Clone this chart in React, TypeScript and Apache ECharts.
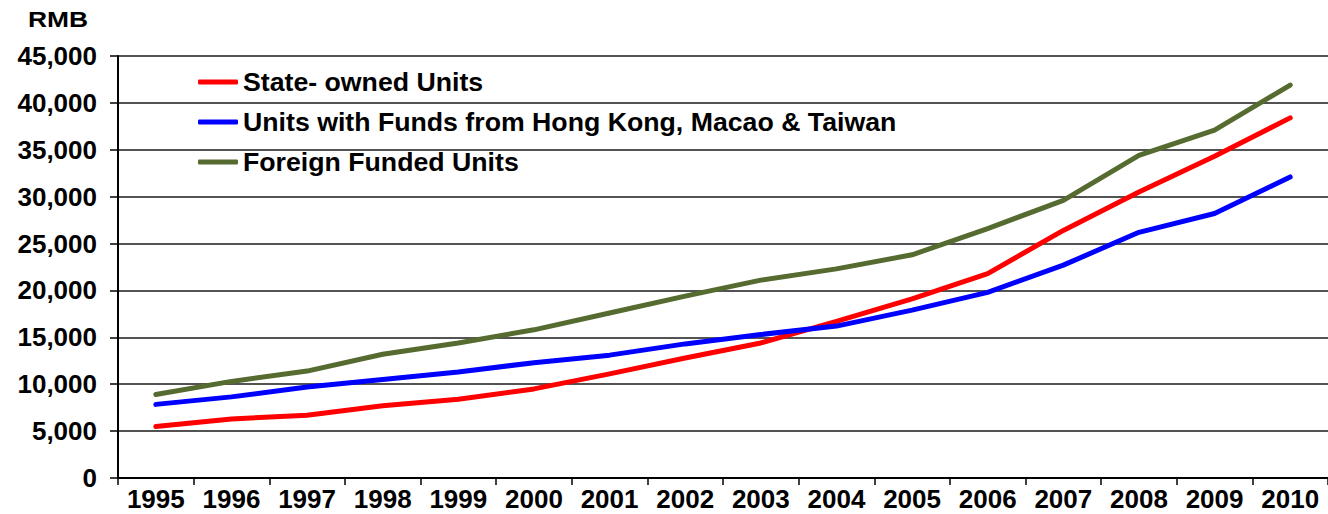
import React, { useEffect, useRef } from "react";
import * as echarts from "echarts";

const years = ["1995","1996","1997","1998","1999","2000","2001","2002","2003","2004","2005","2006","2007","2008","2009","2010"];
const stateOwned = [5500, 6300, 6700, 7700, 8400, 9500, 11100, 12800, 14400, 16700, 19100, 21800, 26400, 30500, 34300, 38400];
const hkMacaoTaiwan = [7850, 8650, 9700, 10500, 11300, 12300, 13100, 14300, 15300, 16200, 17900, 19800, 22700, 26200, 28200, 32100];
const foreignFunded = [8900, 10300, 11400, 13200, 14400, 15800, 17600, 19400, 21100, 22300, 23800, 26600, 29600, 34400, 37100, 41900];
const seriesNames = ["State- owned Units", "Units with Funds from Hong Kong, Macao & Taiwan", "Foreign Funded Units"];
const colors = ["#ff0000", "#0000ff", "#556b2f"];
const unitLabel = "RMB";

const FONT = "'Liberation Sans', Arial, sans-serif";

export default function App() {
  const ref = useRef<HTMLDivElement>(null);
  useEffect(() => {
    if (!ref.current) return;
    const chart = echarts.init(ref.current, null, { renderer: "svg" });
    const datasets = [stateOwned, hkMacaoTaiwan, foreignFunded];
    chart.setOption({
      animation: false,
      backgroundColor: "#ffffff",
      textStyle: { fontFamily: FONT },
      graphic: [
        {
          type: "text",
          x: 28,
          y: 19.5,
          scaleX: 1.2,
          style: {
            text: unitLabel,
            fontFamily: FONT,
            fontWeight: "bold",
            fontSize: 22,
            fill: "#000",
            align: "left",
            verticalAlign: "middle",
          },
        },
      ],
      legend: {
        orient: "vertical",
        left: 198,
        top: 68,
        padding: 0,
        itemWidth: 40,
        itemHeight: 5,
        itemGap: 12,
        icon: "roundRect",
        textStyle: { fontFamily: FONT, fontWeight: "bold", fontSize: 26.7, color: "#000", lineHeight: 28 },
        data: seriesNames,
      },
      grid: { left: 118, right: 0, top: 56, bottom: 36, containLabel: false },
      xAxis: {
        type: "category",
        data: years,
        boundaryGap: true,
        axisLine: { lineStyle: { color: "#000", width: 2 } },
        axisTick: { show: true, length: 7, lineStyle: { color: "#000", width: 1.5 } },
        axisLabel: { color: "#000", fontFamily: FONT, fontWeight: "bold", fontSize: 26, lineHeight: 22, margin: 10, interval: 0 },
        splitLine: { show: false },
      },
      yAxis: {
        type: "value",
        min: 0,
        max: 45000,
        interval: 5000,
        axisLine: { show: true, lineStyle: { color: "#000", width: 2 } },
        axisTick: { show: true, length: 8, lineStyle: { color: "#000", width: 1.5 } },
        axisLabel: {
          color: "#000",
          fontFamily: FONT,
          fontWeight: "bold",
          fontSize: 26,
          margin: 21,
          formatter: (v: number) => v.toLocaleString("en-US"),
        },
        splitLine: { show: true, lineStyle: { color: "#1a1a1a", width: 1.5 } },
      },
      series: datasets.map((d, i) => ({
        name: seriesNames[i],
        type: "line",
        data: d,
        showSymbol: false,
        symbol: "none",
        itemStyle: { color: colors[i] },
        lineStyle: { color: colors[i], width: 5, cap: "round", join: "round" },
      })),
    });
    return () => chart.dispose();
  }, []);
  return <div ref={ref} style={{ position: "fixed", left: 0, top: 0, width: 1328, height: 514 }} />;
}
